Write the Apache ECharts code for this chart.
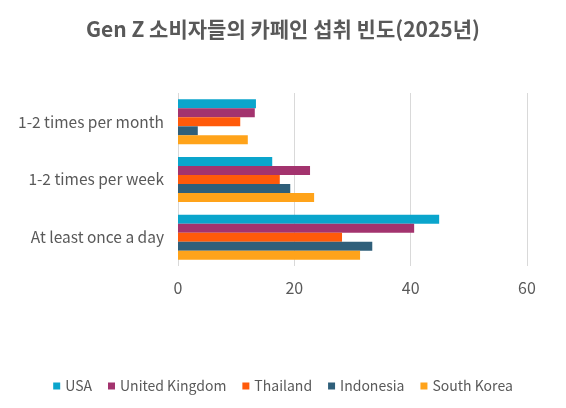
<!DOCTYPE html>
<html><head><meta charset="utf-8">
<script src="https://cdn.jsdelivr.net/npm/echarts@6/dist/echarts.min.js"></script>
<style>html,body{margin:0;padding:0;background:#fff}#c{width:566px;height:408px}</style>
</head><body><div id="c"></div>
<script>
const categories = ["1-2 times per month", "1-2 times per week", "At least once a day"];
const seriesNames = ["USA", "United Kingdom", "Thailand", "Indonesia", "South Korea"];
const usa = [13.4, 16.2, 44.9];
const uk = [13.2, 22.7, 40.6];
const thailand = [10.7, 17.5, 28.2];
const indonesia = [3.4, 19.3, 33.4];
const southKorea = [12.0, 23.4, 31.3];
const xTicks = [0, 20, 40, 60];
const colors = ["#0AA5CC", "#A3336E", "#FF5A0A", "#2F5F7A", "#FFA31A"];
const values = [usa, uk, thailand, indonesia, southKorea];
const font = "Noto Sans CJK KR";
const chart = echarts.init(document.getElementById('c'));
chart.setOption({
  animation: false,
  title: {text: "Gen Z 소비자들의 카페인 섭취 빈도(2025년)", left: 'center', top: 14,
    textStyle: {fontFamily: font, fontSize: 21, fontWeight: 'bold', color: '#595959'}},
  grid: {left: 178, right: 39, top: 93, bottom: 142},
  legend: {bottom: 10, itemWidth: 7, itemHeight: 7, itemGap: 16, icon: 'rect',
    textStyle: {fontFamily: font, fontSize: 14, color: '#595959'}, data: seriesNames},
  xAxis: {type: 'value', min: 0, max: 60, interval: 20,
    axisLabel: {fontFamily: font, fontSize: 16, color: '#595959', margin: 14},
    splitLine: {lineStyle: {color: '#d9d9d9'}}, axisLine: {show: false}, axisTick: {show: false}},
  yAxis: {type: 'category', data: categories, inverse: true,
    axisLabel: {fontFamily: font, fontSize: 15.5, color: '#595959', margin: 14},
    axisLine: {show: false}, axisTick: {show: false}},
  series: seriesNames.map((n, i) => ({name: n, type: 'bar', data: values[i],
    itemStyle: {color: colors[i]}, barGap: '0%', barCategoryGap: '22%'}))
});
</script></body></html>
